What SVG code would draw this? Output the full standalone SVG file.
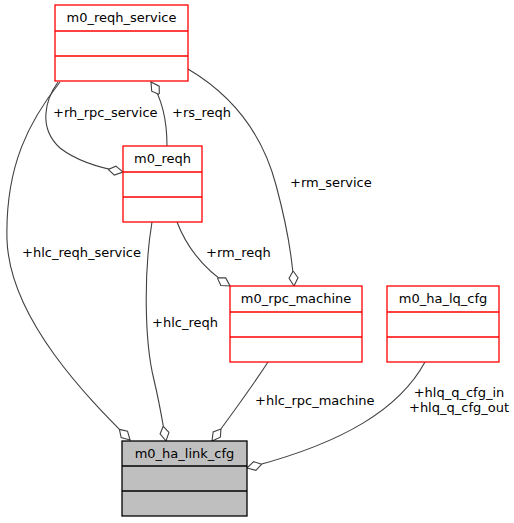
<svg xmlns="http://www.w3.org/2000/svg" width="514" height="523" viewBox="0 0 514 523">
<style>
text{font-family:"DejaVu Sans",sans-serif;font-size:13px;fill:#000}
.t{text-anchor:middle}
.box{fill:#fff;stroke:#ff0000;stroke-width:1.3}
.gbox{fill:#bfbfbf;stroke:#000;stroke-width:1.3}
.e{fill:none;stroke:#404040;stroke-width:1.1}
</style>
<defs>
<marker id="d" markerUnits="userSpaceOnUse" markerWidth="20" markerHeight="12" viewBox="0 -6 20 12" refX="15" refY="0" orient="auto">
<polygon points="0,0 7,-4.5 15,0 7,4.5" fill="#fff" stroke="#404040" stroke-width="1.1"/>
</marker>
</defs>
<g id="edges">
<path class="e" marker-end="url(#d)" d="M60,82 C30,120 5,165 7,240 C10,320 90,400 130,440"/>
<path class="e" marker-end="url(#d)" d="M58,82 C45,100 38,128 60,148 C78,162 100,168 123,172"/>
<path class="e" marker-end="url(#d)" d="M167,146 C167,122 163,100 151,82"/>
<path class="e" marker-end="url(#d)" d="M188,69 C232,95 262,132 276,185 C286,222 292,252 294,286"/>
<path class="e" marker-end="url(#d)" d="M177,222 C187,248 205,270 230,286"/>
<path class="e" marker-end="url(#d)" d="M152,222 C144,270 144,340 154,380 C160,405 163,425 166,441"/>
<path class="e" marker-end="url(#d)" d="M268,362 C255,382 235,410 212,441"/>
<path class="e" marker-end="url(#d)" d="M425,362 C400,408 345,443 247,468"/>
<text x="22" y="257">+hlc_reqh_service</text>
<text x="53" y="117">+rh_rpc_service</text>
<text x="172" y="117">+rs_reqh</text>
<text x="290" y="187">+rm_service</text>
<text x="206" y="257">+rm_reqh</text>
<text x="152" y="327">+hlc_reqh</text>
<text x="255" y="405">+hlc_rpc_machine</text>
<text class="t" x="459" y="397">+hlq_q_cfg_in</text>
<text class="t" x="459" y="412">+hlq_q_cfg_out</text>
</g>
<g id="m0_reqh_service">
<rect class="box" x="55" y="5" width="133" height="76"/>
<line class="box" x1="55" y1="31" x2="188" y2="31"/>
<line class="box" x1="55" y1="56" x2="188" y2="56"/>
<text class="t" x="121.5" y="22">m0_reqh_service</text>
</g>
<g id="m0_reqh">
<rect class="box" x="123" y="146" width="79" height="76"/>
<line class="box" x1="123" y1="172" x2="202" y2="172"/>
<line class="box" x1="123" y1="197" x2="202" y2="197"/>
<text class="t" x="162.5" y="163">m0_reqh</text>
</g>
<g id="m0_rpc_machine">
<rect class="box" x="230" y="286" width="132" height="76"/>
<line class="box" x1="230" y1="312" x2="362" y2="312"/>
<line class="box" x1="230" y1="337" x2="362" y2="337"/>
<text class="t" x="296" y="303">m0_rpc_machine</text>
</g>
<g id="m0_ha_lq_cfg">
<rect class="box" x="387" y="286" width="112" height="76"/>
<line class="box" x1="387" y1="312" x2="499" y2="312"/>
<line class="box" x1="387" y1="337" x2="499" y2="337"/>
<text class="t" x="443" y="303">m0_ha_lq_cfg</text>
</g>
<g id="m0_ha_link_cfg">
<rect class="gbox" x="122" y="441" width="125" height="75"/>
<line class="gbox" x1="122" y1="466" x2="247" y2="466"/>
<line class="gbox" x1="122" y1="491" x2="247" y2="491"/>
<text class="t" x="184.5" y="458">m0_ha_link_cfg</text>
</g>
</svg>
